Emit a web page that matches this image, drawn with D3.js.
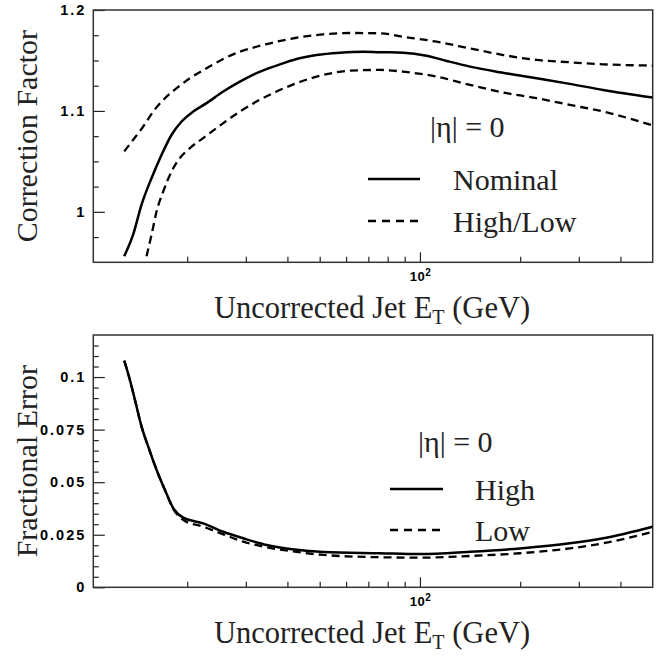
<!DOCTYPE html>
<html>
<head>
<meta charset="utf-8">
<script src="https://cdn.jsdelivr.net/npm/d3@7"></script>
<style>
  html, body { margin: 0; padding: 0; background: #fff; }
  svg { display: block; }
  .ttl { font-family: "Liberation Serif", "Times New Roman", serif; fill: #222; }
</style>
</head>
<body>
<svg id="chart" width="665" height="656"></svg>
<script>
// ---------- DATA ----------
// Top panel: correction factor vs uncorrected jet ET (GeV)
const nominalET  = [12.94, 13.77, 14.59, 15.64, 16.76, 17.96, 19.25, 20.86, 22.87, 25.67, 28.8, 32.3, 37.1, 42.6, 48.9, 57.5, 67.6, 75.8, 89.1, 104.7, 120.3, 141.3, 169.9, 195, 224, 282, 355, 500];
const nominalCF  = [0.956, 0.9776, 1.0072, 1.0336, 1.0566, 1.0764, 1.0895, 1.0994, 1.1077, 1.1192, 1.129, 1.1374, 1.1449, 1.1515, 1.1554, 1.1577, 1.1587, 1.1582, 1.1577, 1.1547, 1.1495, 1.1439, 1.1389, 1.1357, 1.1324, 1.1268, 1.1208, 1.1132];
const highET     = [12.94, 13.77, 14.76, 15.82, 17.15, 18.6, 20.38, 22.87, 25.67, 28.8, 32.3, 37.1, 42.6, 51.3, 61.7, 75.8, 89.1, 112.2, 141.3, 178, 224, 282, 355, 500];
const highCF     = [1.0599, 1.0714, 1.0846, 1.0994, 1.1126, 1.1225, 1.1324, 1.1423, 1.1515, 1.1587, 1.1636, 1.1686, 1.1725, 1.1759, 1.1772, 1.1769, 1.1735, 1.1686, 1.162, 1.1554, 1.1505, 1.1482, 1.1462, 1.1449];
const lowET      = [15.1, 15.64, 16.19, 16.96, 17.96, 19.03, 20.38, 22.35, 25.67, 28.8, 32.3, 37.1, 42.6, 51.3, 61.7, 75.8, 89.1, 112.2, 141.3, 178, 224, 282, 355, 500];
const lowCF      = [0.956, 0.9776, 1.0006, 1.0204, 1.0401, 1.0534, 1.0632, 1.0731, 1.0879, 1.0994, 1.1093, 1.1192, 1.1275, 1.1357, 1.1399, 1.1406, 1.1389, 1.134, 1.1258, 1.1182, 1.1126, 1.106, 1.0994, 1.0856];

// Bottom panel: fractional error vs uncorrected jet ET (GeV)
const errHighET  = [12.94, 13.46, 13.94, 14.59, 15.28, 16.19, 17.15, 18.17, 19.47, 22.35, 25.67, 29.47, 34.65, 40.7, 51.3, 75.8, 100, 141.3, 199.5, 282, 355, 500];
const errHigh    = [0.1078, 0.0986, 0.0891, 0.0764, 0.0669, 0.0558, 0.0463, 0.0376, 0.0331, 0.0304, 0.0264, 0.0233, 0.0201, 0.0182, 0.0168, 0.0162, 0.0158, 0.0169, 0.0185, 0.0209, 0.0233, 0.0288];
const errLowET   = [12.94, 13.46, 13.94, 14.59, 15.28, 16.19, 17.15, 18.17, 19.6, 22.35, 25.67, 29.47, 34.65, 40.7, 51.3, 75.8, 100, 141.3, 199.5, 282, 355, 500];
const errLow     = [0.1078, 0.0986, 0.0891, 0.0764, 0.0669, 0.0558, 0.0462, 0.0373, 0.0317, 0.0288, 0.0252, 0.0217, 0.019, 0.0173, 0.0154, 0.0143, 0.0141, 0.0149, 0.0162, 0.0185, 0.0209, 0.0264];

// Axes / ticks
const xDomain      = [10.45, 500];
const xMajorTicks  = [100];
const xMinorTicks  = [20, 30, 40, 50, 60, 70, 80, 90, 200, 300, 400];
const topYDomain   = [0.95, 1.2];
const topYMajor    = [1.0, 1.1, 1.2];
const topYLabels   = ["1", "1.1", "1.2"];
const topYMinor    = [0.975, 1.025, 1.05, 1.075, 1.125, 1.15, 1.175];
const botYDomain   = [0, 0.12];
const botYMajor    = [0, 0.025, 0.05, 0.075, 0.1];
const botYLabels   = ["0", "0.025", "0.05", "0.075", "0.1"];
const botYMinor    = [0.005, 0.01, 0.015, 0.02, 0.03, 0.035, 0.04, 0.045, 0.055, 0.06, 0.065, 0.07, 0.08, 0.085, 0.09, 0.095, 0.105, 0.11, 0.115];

const xTitle = "Uncorrected Jet E";
const xTitleSub = "T";
const xTitleTail = " (GeV)";
const topYTitle = "Correction Factor";
const botYTitle = "Fractional Error";
const etaLabel = "|η| = 0";
const topLegend = ["Nominal", "High/Low"];
const botLegend = ["High", "Low"];

// ---------- LAYOUT ----------
const svg = d3.select("#chart");
const L = 93.3, R = 652.7;
const panels = [
  { top: 10, bottom: 262.3 },
  { top: 335, bottom: 587.3 }
];

const x = d3.scaleLog().domain(xDomain).range([L, R]);

function styleTickText(sel, size, spacing) {
  sel.attr("fill", "#000")
    .attr("font-family", null).attr("font-size", null)
    .style("font-family", "'Liberation Sans', Arial, sans-serif")
    .style("font-weight", "bold")
    .style("font-size", size + "px")
    .style("letter-spacing", spacing + "px");
}

function drawPanel(p, yDomain, yMajor, yLabels, yMinor, yTitle) {
  const y = d3.scaleLinear().domain(yDomain).range([p.bottom, p.top]);
  const g = svg.append("g");

  // y minor ticks
  g.append("g").attr("transform", `translate(${L},0)`)
    .call(d3.axisLeft(y).tickValues(yMinor).tickSize(-5.5).tickFormat(""))
    .call(a => a.select(".domain").remove())
    .call(a => a.selectAll("line").attr("stroke", "#222").attr("stroke-width", 1.2));
  // y major ticks + labels
  g.append("g").attr("transform", `translate(${L},0)`)
    .attr("font-size", null).attr("font-family", null)
    .call(d3.axisLeft(y).tickValues(yMajor).tickSize(-11.5).tickPadding(7)
      .tickFormat((d, i) => yLabels[i]))
    .call(a => a.select(".domain").remove())
    .call(a => a.selectAll("line").attr("stroke", "#222").attr("stroke-width", 1.2))
    .call(a => styleTickText(a.selectAll("text"), 14.5, 2));
  // x minor ticks
  g.append("g").attr("transform", `translate(0,${p.bottom})`)
    .call(d3.axisBottom(x).tickValues(xMinorTicks).tickSize(-5.5).tickFormat(""))
    .call(a => a.select(".domain").remove())
    .call(a => a.selectAll("line").attr("stroke", "#222").attr("stroke-width", 1.2));
  // x major ticks + labels
  const xa = g.append("g").attr("transform", `translate(0,${p.bottom})`)
    .call(d3.axisBottom(x).tickValues(xMajorTicks).tickSize(-10).tickPadding(9).tickFormat(() => "10"))
    .call(a => a.select(".domain").remove())
    .call(a => a.selectAll("line").attr("stroke", "#222").attr("stroke-width", 1.2));
  const xt0 = xa.selectAll("text");
  styleTickText(xt0, 13, 0.5);
  xt0.append("tspan").attr("dy", "-5").style("font-size", "10px").text("2");

  // frame
  g.append("rect").attr("x", L).attr("y", p.top).attr("width", R - L).attr("height", p.bottom - p.top)
    .attr("fill", "none").attr("stroke", "#333").attr("stroke-width", 1.5);

  // y title
  g.append("text").attr("class", "ttl")
    .attr("transform", `translate(37,${(p.top + p.bottom) / 2}) rotate(-90)`)
    .attr("text-anchor", "middle").style("font-size", "30px").text(yTitle);

  // x title
  const xt = g.append("text").attr("class", "ttl")
    .attr("x", 372).attr("y", p.bottom + 56).attr("text-anchor", "middle").style("font-size", "30.5px");
  xt.append("tspan").text(xTitle);
  xt.append("tspan").attr("dy", 6).style("font-size", "20px").text(xTitleSub);
  xt.append("tspan").attr("dy", -6).text(xTitleTail);

  return y;
}

const yTop = drawPanel(panels[0], topYDomain, topYMajor, topYLabels, topYMinor, topYTitle);
const yBot = drawPanel(panels[1], botYDomain, botYMajor, botYLabels, botYMinor, botYTitle);

const clipIds = ["c0", "c1"];
panels.forEach((p, i) => {
  svg.append("clipPath").attr("id", clipIds[i]).append("rect")
    .attr("x", L).attr("y", p.top).attr("width", R - L).attr("height", p.bottom - p.top);
});

function curve(xs, ys, yScale, clip, dashed, sw) {
  const line = d3.line().x(d => x(d[0])).y(d => yScale(d[1])).curve(d3.curveMonotoneX);
  svg.append("path").datum(xs.map((v, i) => [v, ys[i]]))
    .attr("d", line).attr("fill", "none").attr("stroke", "#000")
    .attr("stroke-width", sw).attr("clip-path", `url(#${clip})`)
    .attr("stroke-dasharray", dashed ? "8,5" : null);
}

curve(nominalET, nominalCF, yTop, "c0", false, 2.5);
curve(highET, highCF, yTop, "c0", true, 2.3);
curve(lowET, lowCF, yTop, "c0", true, 2.3);
curve(errLowET, errLow, yBot, "c1", true, 2.3);
curve(errHighET, errHigh, yBot, "c1", false, 2.5);

// legends
function legend(etaX, etaY, lineX0, lineX1, textX, rows, rowYs) {
  svg.append("text").attr("class", "ttl").attr("x", etaX).attr("y", etaY).style("font-size", "30px").text(etaLabel);
  rows.forEach((r, i) => {
    svg.append("line").attr("x1", lineX0).attr("x2", lineX1)
      .attr("y1", rowYs[i] - 11).attr("y2", rowYs[i] - 11)
      .attr("stroke", "#000").attr("stroke-width", 2.5)
      .attr("stroke-dasharray", i === 1 ? "8,6" : null);
    svg.append("text").attr("class", "ttl").attr("x", textX).attr("y", rowYs[i]).style("font-size", "30px").text(r);
  });
}
legend(430, 137, 368, 420, 453, topLegend, [190, 232]);
legend(418, 452, 390, 443, 475, botLegend, [500, 541]);
</script>
</body>
</html>
